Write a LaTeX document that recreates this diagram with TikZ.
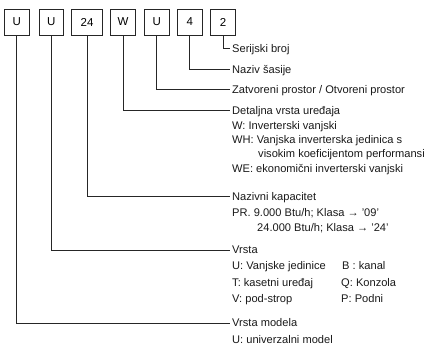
\documentclass[tikz,border=0pt]{standalone}
\usepackage{fontspec}
\setmainfont{Liberation Sans}
\begin{document}
\begin{tikzpicture}[x=1pt,y=1pt,
  codebox/.style={draw=black!85, line width=0.8pt, minimum height=26pt, minimum width=24.5pt, inner sep=0pt, font=\fontsize{11.5}{13}\selectfont},
  conn/.style={draw=black!85, line width=0.8pt},
  lbl/.style={anchor=base west, inner sep=0pt, font=\fontsize{11.1}{13}\selectfont, text=black!90}]
\useasboundingbox (0,0) rectangle (427,347);
% code boxes
\node[codebox] (b1) at (16.7,325) {U};
\node[codebox] (b2) at (51.3,325) {U};
\node[codebox, minimum width=30.5pt] (b3) at (87,325) {24};
\node[codebox] (b4) at (123,325) {W};
\node[codebox] (b5) at (156.8,325) {U};
\node[codebox] (b6) at (189.7,325) {4};
\node[codebox] (b7) at (223,325) {2};
% connector ends
\coordinate (e7) at (230,{347-48});
\coordinate (e6) at (230,{347-69});
\coordinate (e5) at (230,{347-89});
\coordinate (e4) at (230,{347-110});
\coordinate (e3) at (230,{347-196});
\coordinate (e2) at (230,{347-250});
\coordinate (e1) at (230,{347-323});
\draw[conn] (b7.south) |- (e7);
\draw[conn] (b6.south) |- (e6);
\draw[conn] (b5.south) |- (e5);
\draw[conn] (b4.south) |- (e4);
\draw[conn] (b3.south) |- (e3);
\draw[conn] (b2.south) |- (e2);
\draw[conn] (b1.south) |- (e1);
% labels
\node[lbl] (t7) at (232,{347-53}) {Serijski broj};
\node[lbl] (t6) at (232,{347-74}) {Naziv šasije};
\node[lbl] (t5) at (232,{347-94}) {Zatvoreni prostor / Otvoreni prostor};
\node[lbl] (t4) at (232,{347-115}) {Detaljna vrsta uređaja};
\node[lbl] (t4a) at (232,{347-130}) {W: Inverterski vanjski};
\node[lbl] (t4b) at (232,{347-144}) {WH: Vanjska inverterska jedinica s};
\node[lbl] (t4c) at (258,{347-158}) {visokim koeficijentom performansi};
\node[lbl] (t4d) at (232,{347-173}) {WE: ekonomični inverterski vanjski};
\node[lbl] (t3) at (232,{347-201}) {Nazivni kapacitet};
\node[lbl] (t3a) at (232,{347-217}) {PR. 9.000 Btu/h; Klasa → '09'};
\node[lbl] (t3b) at (257,{347-232}) {24.000 Btu/h; Klasa → '24'};
\node[lbl] (t2) at (232,{347-254}) {Vrsta};
\node[lbl] (t2a) at (232,{347-270}) {U: Vanjske jedinice};
\node[lbl] (t2b) at (232,{347-287}) {T: kasetni uređaj};
\node[lbl] (t2c) at (232,{347-303}) {V: pod-strop};
\node[lbl] (t2d) at (342,{347-270}) {B : kanal};
\node[lbl] (t2e) at (341,{347-287}) {Q: Konzola};
\node[lbl] (t2f) at (341,{347-303}) {P: Podni};
\node[lbl] (t1) at (232,{347-327}) {Vrsta modela};
\node[lbl] (t1a) at (232,{347-343}) {U: univerzalni model};
\end{tikzpicture}
\end{document}
